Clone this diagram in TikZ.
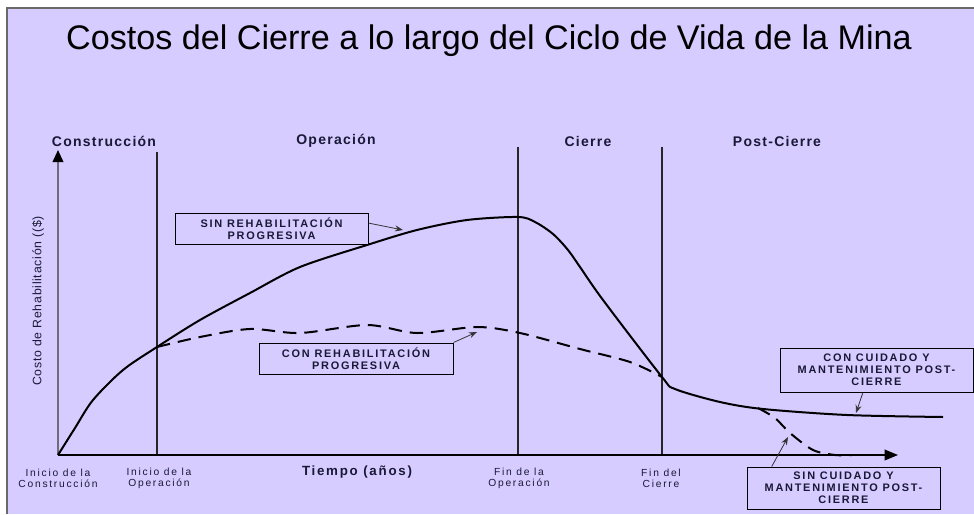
\documentclass[tikz,border=0pt]{standalone}
\usepackage{fontspec}
\setmainfont{Liberation Sans}
\newfontfamily\phasefont[LetterSpace=9]{Liberation Sans}
\newfontfamily\boxfont[LetterSpace=16]{Liberation Sans}
\newfontfamily\tickfont[LetterSpace=17]{Liberation Sans}
\newfontfamily\tiempofont[LetterSpace=13]{Liberation Sans}
\newfontfamily\ylabfont[LetterSpace=6]{Liberation Sans}
\usetikzlibrary{arrows.meta,calc}
\definecolor{bgc}{RGB}{214,204,255}
\definecolor{framec}{RGB}{105,105,105}
\definecolor{txtc}{RGB}{25,25,55}
\definecolor{axisgray}{RGB}{110,110,120}
\begin{document}
\begin{tikzpicture}[x=0.75pt,y=-0.75pt,
  vline/.style={draw=black!85,line width=0.9pt},
  curve/.style={draw=black,line width=1.5pt,line join=round},
  dashcurve/.style={curve,dash pattern=on 10pt off 6pt},
  pointer/.style={draw=black!80,line width=0.6pt,-{Stealth[length=6pt,width=4.5pt]}},
  labbox/.style={draw=black,line width=0.75pt,fill=bgc,align=center,inner sep=0pt,text=txtc,font=\boxfont\bfseries\fontsize{8.2}{9}\selectfont},
  phase/.style={text=txtc,font=\phasefont\bfseries\fontsize{10.5}{12}\selectfont},
  tick/.style={text=txtc,align=center,font=\tickfont\fontsize{7.7}{8.3}\selectfont}]
\useasboundingbox (0,0) rectangle (974,514);
\fill[white] (0,0) rectangle (974,514);
\fill[bgc] (7,8) rectangle (974,514);
\draw[framec,line width=1.6pt] (7,514) -- (7,8) -- (974,8);

% title
\node[font=\fontsize{25.6}{30}\selectfont,text=black] (title) at (489,41) {Costos del Cierre a lo largo del Ciclo de Vida de la Mina};

% phase labels
\node[phase] (pc) at (104,141) {Construcción};
\node[phase] (po) at (336,141) {Operación};
\node[phase] (pci) at (588,141) {Cierre};
\node[phase] (ppc) at (777,141) {Post-Cierre};

% vertical separators
\draw[vline] (157,152) -- (157,455);
\draw[vline] (518,147) -- (518,455);
\draw[vline] (662,147) -- (662,455);

% axes
\coordinate (origin) at (58,455);
\coordinate (ytip) at (58,150);
\coordinate (xtip) at (898,455);
\draw[axisgray,line width=1.2pt,-{Triangle[length=9pt,width=8pt,color=black]}] (origin) -- (ytip);
\draw[black,line width=1.1pt,-{Triangle[length=10pt,width=8pt]}] (origin) -- (xtip);

% y label
\node[rotate=90,text=txtc,font=\ylabfont\fontsize{9.2}{10}\selectfont] (ylab) at (38,301) {Costo de Rehabilitación ((\$)};

% x ticks
\node[tick] (t1) at (58,478) {Inicio de la\\Construcción};
\node[tick] (t2) at (159,478) {Inicio de la\\Operación};
\node[tick] (t3) at (519,478) {Fin de la\\Operación};
\node[tick] (t4) at (661,478) {Fin del\\Cierre};
\node[text=txtc,font=\tiempofont\bfseries\fontsize{10}{12}\selectfont] (tiempo) at (357,472) {Tiempo (años)};

% curves
\draw[curve] plot[smooth,tension=0.5] coordinates {(58,455) (75,428) (93,400) (123,370) (157,347) (200,320) (250,293) (300,267) (367,245) (417,230) (467,220) (518,217) (535,222) (553,234) (568,250) (580,267) (603,300) (662,377) (675,389) (720,402) (763,409) (847,415) (943,417)};
\draw[dashcurve] plot[smooth,tension=0.5] coordinates {(157,347) (200,337) (250,329) (300,333) (367,325) (417,333) (477,327) (520,333) (580,349) (630,362) (662,377)};
\draw[dashcurve] plot[smooth,tension=0.5] coordinates {(758,408) (775,418) (790,433) (813,450) (835,455) (852,455)};

% boxes
\node[labbox,minimum width=193*0.75pt,minimum height=31*0.75pt] (sinrp) at (271.5,228.5) {SIN REHABILITACIÓN\\PROGRESIVA};
\node[labbox,minimum width=194*0.75pt,minimum height=31*0.75pt] (conrp) at (356,358.5) {CON REHABILITACIÓN\\PROGRESIVA};
\node[labbox,minimum width=193*0.75pt,minimum height=44*0.75pt] (concuid) at (876.5,370) {CON CUIDADO Y\\MANTENIMIENTO POST-\\CIERRE};
\node[labbox,minimum width=193*0.75pt,minimum height=42*0.75pt] (sincuid) at (843.5,488) {SIN CUIDADO Y\\MANTENIMIENTO POST-\\CIERRE};

% pointers
\coordinate (p1) at (403,230);
\coordinate (p2) at (477,332);
\coordinate (p3) at (856,413);
\coordinate (p4) at (788,437);
\draw[pointer] ($(sinrp.north east)!0.33!(sinrp.south east)$) -- (p1);
\draw[pointer] (conrp.north east) -- (p2);
\draw[pointer] ($(concuid.south west)!0.43!(concuid.south east)$) -- (p3);
\draw[pointer] ($(sincuid.north west)!0.13!(sincuid.north east)$) -- (p4);
\end{tikzpicture}
\end{document}
